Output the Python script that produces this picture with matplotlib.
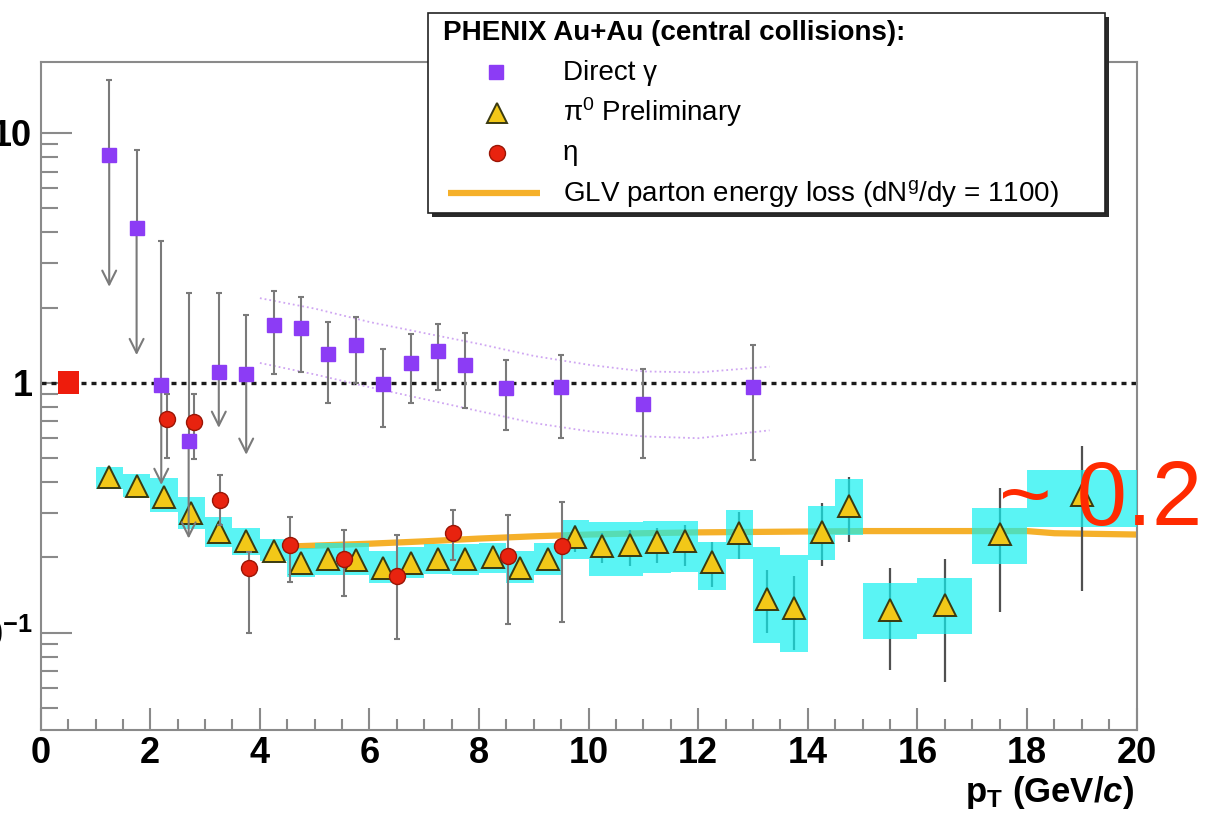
import matplotlib
matplotlib.use("Agg")
import matplotlib.pyplot as plt
from matplotlib.patches import Rectangle
from matplotlib.ticker import MultipleLocator, LogLocator, NullFormatter, FixedLocator

plt.rcParams['font.family'] = ['Liberation Sans', 'DejaVu Sans']
plt.rcParams['mathtext.fontset'] = 'custom'
plt.rcParams['mathtext.rm'] = 'Liberation Sans'
plt.rcParams['mathtext.bf'] = 'Liberation Sans:bold'
plt.rcParams['mathtext.it'] = 'Liberation Sans:italic:bold'

# ---------------- data ----------------
# direct photons (first six points are upper limits)
gamma_pt = [1.25, 1.75, 2.2, 2.7, 3.25, 3.75, 4.25, 4.75, 5.25, 5.75, 6.25,
            6.75, 7.25, 7.75, 8.5, 9.5, 11.0, 13.0]
gamma_raa = [8.14, 4.16, 0.98, 0.586, 1.107, 1.083, 1.70, 1.66, 1.30, 1.415,
             0.99, 1.20, 1.34, 1.18, 0.95, 0.96, 0.82, 0.96]
gamma_hi = [16.3, 8.5, 3.7, 2.29, 2.29, 1.87, 2.33, 2.21, 1.75, 1.84, 1.36,
            1.57, 1.72, 1.58, 1.23, 1.29, 1.14, 1.42]
gamma_lo = [2.42, 1.29, 0.39, 0.238, 0.66, 0.515, 1.08, 1.107, 0.83, 1.0,
            0.667, 0.83, 0.935, 0.79, 0.647, 0.60, 0.50, 0.49]
gamma_limit = [True, True, True, True, True, True] + [False] * 12

# direct photon expectation band
band_pt = [4.0, 5.0, 6.0, 7.0, 8.0, 9.0, 10.0, 11.0, 12.0, 13.3]
band_upper = [2.18, 1.98, 1.75, 1.58, 1.43, 1.28, 1.18, 1.11, 1.10, 1.16]
band_lower = [1.20, 1.08, 0.96, 0.86, 0.77, 0.69, 0.64, 0.61, 0.60, 0.645]

# pi0 preliminary
pi0_pt = [1.25, 1.75, 2.25, 2.75, 3.25, 3.75, 4.25, 4.75, 5.25, 5.75, 6.25,
          6.75, 7.25, 7.75, 8.25, 8.75, 9.25, 9.75, 10.25, 10.75, 11.25,
          11.75, 12.25, 12.75, 13.25, 13.75, 14.25, 14.75, 15.5, 16.5, 17.5,
          19.0]
pi0_raa = [0.421, 0.387, 0.350, 0.300, 0.252, 0.232, 0.213, 0.190, 0.198,
           0.195, 0.182, 0.190, 0.198, 0.197, 0.200, 0.181, 0.197, 0.242,
           0.223, 0.224, 0.231, 0.232, 0.192, 0.250, 0.136, 0.126, 0.252,
           0.322, 0.123, 0.129, 0.248, 0.356]
pi0_stat_lo = [0.385, 0.355, 0.322, 0.275, 0.232, 0.213, 0.197, 0.175, 0.183,
               0.180, 0.167, 0.175, 0.183, 0.181, 0.183, 0.164, 0.178, 0.210,
               0.190, 0.184, 0.190, 0.184, 0.153, 0.198, 0.100, 0.085, 0.185,
               0.231, 0.0706, 0.0637, 0.121, 0.147]
pi0_stat_hi = [0.458, 0.420, 0.380, 0.325, 0.272, 0.250, 0.230, 0.205, 0.213,
               0.210, 0.197, 0.205, 0.213, 0.213, 0.217, 0.198, 0.216, 0.270,
               0.250, 0.257, 0.262, 0.270, 0.231, 0.305, 0.178, 0.168, 0.331,
               0.418, 0.181, 0.198, 0.378, 0.558]
pi0_sys_lo = [0.375, 0.350, 0.305, 0.260, 0.220, 0.205, 0.193, 0.167, 0.170,
              0.170, 0.158, 0.165, 0.172, 0.170, 0.173, 0.158, 0.170, 0.198,
              0.168, 0.168, 0.173, 0.175, 0.148, 0.198, 0.0906, 0.084, 0.195,
              0.246, 0.094, 0.0988, 0.188, 0.265]
pi0_sys_hi = [0.460, 0.430, 0.415, 0.350, 0.290, 0.262, 0.238, 0.218, 0.228,
              0.228, 0.212, 0.220, 0.226, 0.226, 0.228, 0.212, 0.228, 0.282,
              0.278, 0.278, 0.280, 0.280, 0.231, 0.309, 0.221, 0.204, 0.321,
              0.411, 0.158, 0.165, 0.315, 0.448]
pi0_bin_halfwidth = [0.25] * 28 + [0.5, 0.5, 0.5, 1.0]

# eta
eta_pt = [2.31, 2.80, 3.28, 3.80, 4.55, 5.54, 6.51, 7.52, 8.53, 9.51]
eta_raa = [0.714, 0.698, 0.340, 0.181, 0.224, 0.198, 0.169, 0.251, 0.203, 0.223]
eta_hi = [0.90, 0.90, 0.428, 0.21, 0.291, 0.257, 0.247, 0.309, 0.296, 0.334]
eta_lo = [0.50, 0.494, 0.27, 0.10, 0.16, 0.14, 0.094, 0.195, 0.108, 0.110]

# GLV parton energy loss calculation
glv_pt = [4.5, 5, 6, 7, 8, 9, 10, 11, 12, 13, 14, 15, 16, 17, 18, 18.5, 19, 20]
glv_raa = [0.221, 0.223, 0.227, 0.232, 0.238, 0.243, 0.247, 0.250, 0.252,
           0.253, 0.254, 0.255, 0.255, 0.255, 0.255, 0.250, 0.249, 0.247]

# overall normalisation uncertainty
norm_pt = 0.5
norm_halfwidth = 0.19
norm_lo, norm_hi = 0.90, 1.11

# ---------------- style ----------------
C_GAMMA = '#8c3cf5'
C_PI0 = '#f2c818'
C_ETA = '#e8230f'
C_SYS = '#14f0f0'
C_GLV = '#f5b02a'
C_BAR = '#7a7a7a'
C_AXIS = '#8a8a8a'

fig = plt.figure(figsize=(12.05, 8.19), dpi=100)
ax = fig.add_axes([40.7 / 1205, 1 - 730 / 819, 1096 / 1205, 668 / 819])
ax.set_yscale('log')
ax.set_xlim(0, 20)
ax.set_ylim(0.0408, 19.2)

# reference line at unity
ax.axhline(1.0, color='#1a1a1a', lw=2.4, ls=(0, (1.5, 1.5)), zorder=2)

# GLV curve
ax.plot(glv_pt, glv_raa, color=C_GLV, lw=4.5, solid_capstyle='butt', zorder=2)

# pi0 statistical errors (under the systematic boxes)
ax.vlines(pi0_pt, pi0_stat_lo, pi0_stat_hi, color='#505050', lw=1.6, zorder=2.5)

# pi0 systematic boxes
for x, lo, hi, hw in zip(pi0_pt, pi0_sys_lo, pi0_sys_hi, pi0_bin_halfwidth):
    ax.add_patch(Rectangle((x - hw, lo), 2 * hw, hi - lo, facecolor=C_SYS,
                           alpha=0.7, lw=0, antialiased=False, zorder=3))

ax.plot(pi0_pt, pi0_raa, ls='none', marker='^', ms=16, mfc=C_PI0,
        mec='#3a3a10', mew=1.4, zorder=4)

# direct photon band
ax.plot(band_pt, band_upper, ls=':', color='#cfa6f2', lw=1.3, zorder=2)
ax.plot(band_pt, band_lower, ls=':', color='#cfa6f2', lw=1.3, zorder=2)

# direct photon errors and limits
for x, v, lo, hi, lim in zip(gamma_pt, gamma_raa, gamma_lo, gamma_hi, gamma_limit):
    if lim:
        ax.errorbar([x], [v], yerr=[[0], [hi - v]], fmt='none', ecolor=C_BAR,
                    elinewidth=1.5, capsize=2.5, capthick=1.5, zorder=5)
        ax.annotate('', xy=(x, lo), xytext=(x, v),
                    arrowprops=dict(arrowstyle='->,head_length=1.0,head_width=0.5',
                                    color=C_BAR, lw=1.5, shrinkA=0, shrinkB=0),
                    zorder=5)
    else:
        ax.errorbar([x], [v], yerr=[[v - lo], [hi - v]], fmt='none',
                    ecolor=C_BAR, elinewidth=1.5, capsize=2.5, capthick=1.5,
                    zorder=5)
ax.plot(gamma_pt, gamma_raa, ls='none', marker='s', ms=10.5, mfc=C_GAMMA,
        mec=C_GAMMA, zorder=6)

# eta
eta_err = [[v - lo for v, lo in zip(eta_raa, eta_lo)],
           [hi - v for v, hi in zip(eta_raa, eta_hi)]]
ax.errorbar(eta_pt, eta_raa, yerr=eta_err, fmt='none', ecolor=C_BAR,
            elinewidth=1.5, capsize=2.5, capthick=1.5, zorder=5)
ax.plot(eta_pt, eta_raa, ls='none', marker='o', ms=11.5, mfc=C_ETA,
        mec='#9a1505', mew=1.0, zorder=6)

# normalisation box
ax.add_patch(Rectangle((norm_pt - norm_halfwidth, norm_lo), 2 * norm_halfwidth,
                       norm_hi - norm_lo, facecolor='#ee1c0c', lw=0, zorder=6))

# ---------------- axes ----------------
for s in ax.spines.values():
    s.set_color(C_AXIS)
    s.set_linewidth(1.5)
ax.xaxis.set_major_locator(MultipleLocator(2))
ax.xaxis.set_minor_locator(MultipleLocator(0.5))
ax.yaxis.set_major_locator(FixedLocator([0.1, 1, 10]))
ax.yaxis.set_minor_locator(LogLocator(base=10, subs=range(2, 10)))
ax.yaxis.set_minor_formatter(NullFormatter())
ax.set_xticks(range(0, 21, 2))
ax.set_xticklabels([str(v) for v in range(0, 21, 2)], fontsize=26, fontweight='bold')
ax.set_yticks([0.1, 1, 10])
ax.set_yticklabels([r'$\mathbf{10^{-1}}$', '1', '10'], fontsize=26, fontweight='bold')
ax.tick_params(axis='both', which='both', direction='in', color=C_AXIS,
               width=1.5, top=False, right=False)
ax.tick_params(axis='y', which='major', length=22.3, pad=6)
ax.tick_params(axis='y', which='minor', length=12.2)
ax.tick_params(axis='x', which='major', length=15.8, pad=4)
ax.tick_params(axis='x', which='minor', length=7.9)

ax.text(17.49, 0.27, '~ 0.2', color='#ff2a00', fontsize=65,
        fontfamily='Liberation Sans', va='baseline', ha='left',
        clip_on=False, zorder=20)

# ---------------- overlay: legend and axis title ----------------
ov = fig.add_axes([0, 0, 1, 1], zorder=10)
ov.set_xlim(0, 1205)
ov.set_ylim(819, 0)
ov.axis('off')
ov.patch.set_alpha(0)

ov.add_patch(Rectangle((432, 17), 677, 200, facecolor='#2a2a2a', lw=0))
ov.add_patch(Rectangle((428, 13), 677, 200, facecolor='white',
                       edgecolor='#222222', lw=1.2))
ov.text(443, 40, 'PHENIX Au+Au (central collisions):', fontsize=20,
        fontweight='bold', va='baseline')
ov.plot(496, 72, ls='none', marker='s', ms=10.5, mfc=C_GAMMA, mec=C_GAMMA)
ov.text(563, 80, 'Direct γ', fontsize=20, va='baseline')
ov.plot(497, 113, ls='none', marker='^', ms=14, mfc=C_PI0, mec='#3a3a10', mew=1.4)
ov.text(563, 121, 'π$^{0}$ Preliminary', fontsize=20, va='baseline')
ov.plot(497, 153, ls='none', marker='o', ms=11.5, mfc=C_ETA, mec='#9a1505', mew=1.0)
ov.text(563, 160, 'η', fontsize=20, va='baseline')
ov.plot([448, 540], [193, 193], color=C_GLV, lw=4.5, solid_capstyle='butt')
ov.text(563, 201, r'GLV parton energy loss (dN$^{\mathrm{g}}$/dy = 1100)',
        fontsize=20, va='baseline')

ov.text(1134, 802, r'p$_{\mathbf{T}}$ (GeV/$\mathit{c}$)', fontsize=25,
        fontweight='bold', ha='right', va='baseline')

fig.savefig('out.png', dpi=100)
